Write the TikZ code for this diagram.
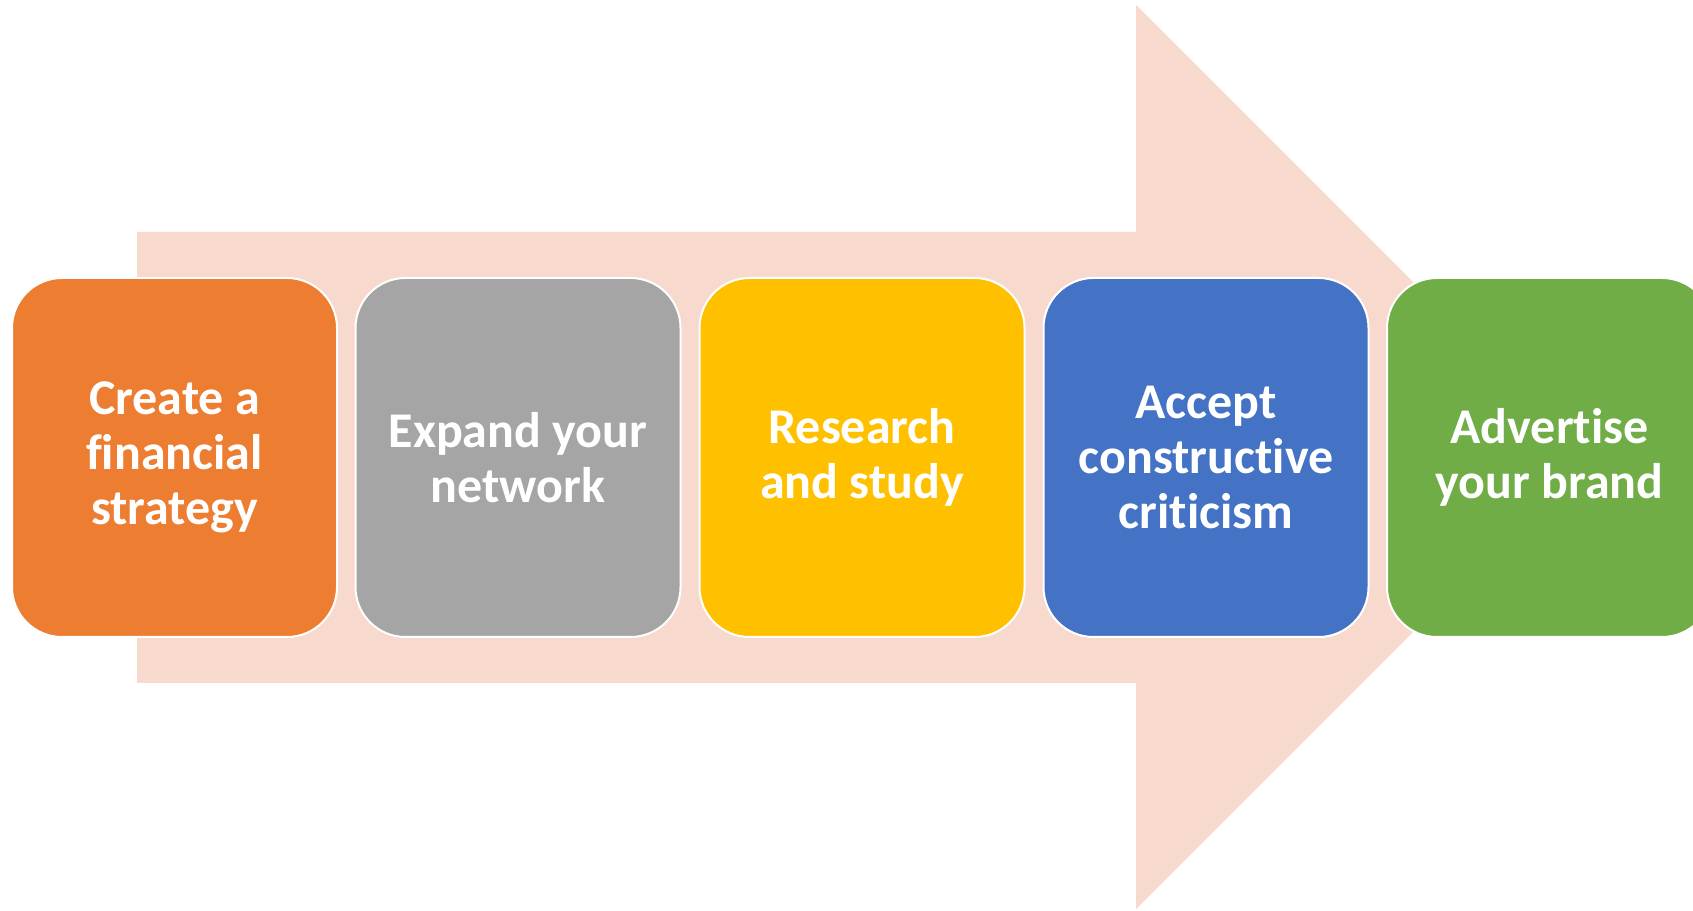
\documentclass[tikz,border=0pt]{standalone}
\usepackage{fontspec}
\setmainfont[RawFeature=-liga]{Carlito}
\definecolor{arrowfill}{HTML}{F8D9CE}
\definecolor{c1}{HTML}{ED7D31}
\definecolor{c2}{HTML}{A5A5A5}
\definecolor{c3}{HTML}{FFC000}
\definecolor{c4}{HTML}{4472C4}
\definecolor{c5}{HTML}{70AD47}
\tikzset{
  stepbox/.style={draw=white, line width=2pt, rounded corners=50pt,
    minimum width=325pt, minimum height=359pt, inner sep=0pt,
    text=white, align=center,
    font=\fontsize{50}{55}\selectfont\bfseries}
}
\begin{document}
\begin{tikzpicture}[x=1pt,y=1pt]
\useasboundingbox (0,0) rectangle (1693,910);
\clip (0,0) rectangle (1693,910);
\fill[arrowfill] (137,678) -- (1136,678) -- (1136,905) -- (1588,453) -- (1136,1) -- (1136,227) -- (137,227) -- cycle;
\node[stepbox, fill=c1] (b1) at (174.5,452.5) {Create a\\financial\\strategy};
\node[stepbox, fill=c2] (b2) at (518,452.5) {Expand your\\network};
\node[stepbox, fill=c3] (b3) at (862,452.5) {Research\\and study};
\node[stepbox, fill=c4] (b4) at (1206,452.5) {Accept\\constructive\\criticism};
\node[stepbox, fill=c5] (b5) at (1549.5,452.5) {Advertise\\your brand};
\end{tikzpicture}
\end{document}
